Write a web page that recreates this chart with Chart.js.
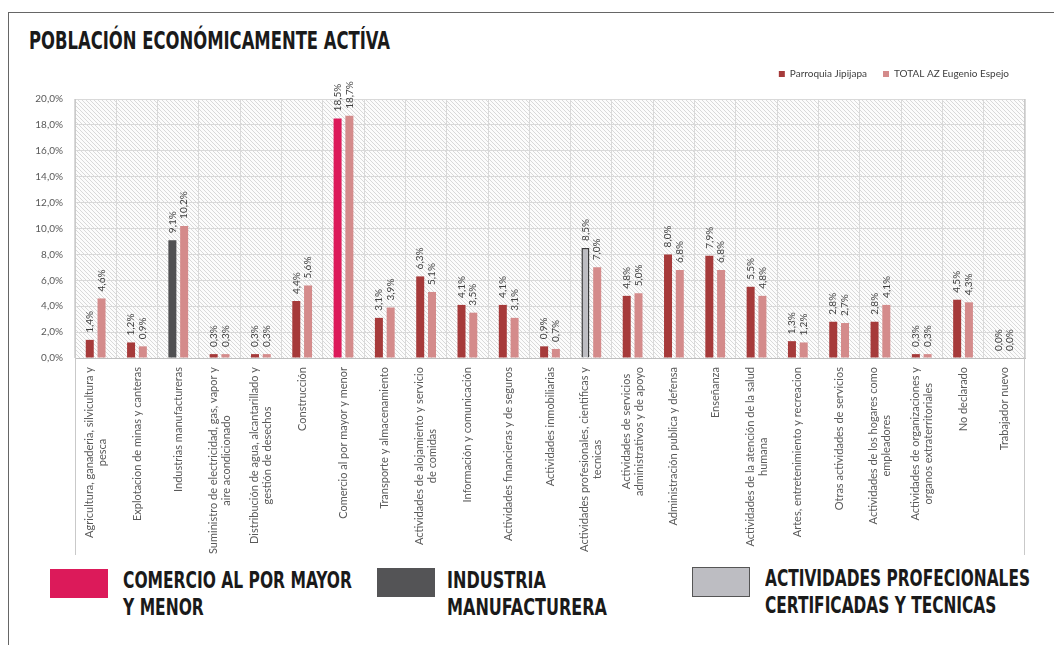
<!DOCTYPE html>
<html lang="es">
<head>
<meta charset="UTF-8">
<title>Población económicamente activa</title>
<script src="https://cdn.jsdelivr.net/npm/chart.js"></script>
<style>
  body { margin: 0; width: 1054px; height: 645px; overflow: hidden; position: relative; background: #fff; font-family: Lato, sans-serif; }
  .marco { position: absolute; left: 8px; top: 12px; width: 1100px; height: 700px; border-top: 1px solid #666; border-left: 1px solid #666; }
  .titulo, .nota { position: absolute; font-family: 'Liberation Sans Narrow', 'DejaVu Sans Condensed', sans-serif; font-weight: bold; color: #1a1a1a; white-space: nowrap; transform-origin: 0 0; }
  .titulo { left: 29px; top: 27px; font-size: 24px; line-height: 28px; }
  .nota { font-size: 23px; line-height: 27px; }
  .muestra { position: absolute; width: 58px; height: 29px; }
  #lienzo { position: absolute; left: 10px; top: 40px; width: 1040px; height: 520px; }
</style>
</head>
<body>
<div class="marco"></div>
<div class="titulo" id="titulo">POBLACIÓN ECONÓMICAMENTE ACTÍVA</div>
<div id="lienzo"><canvas id="grafico"></canvas></div>

<div class="muestra" style="left:50px; top:569px; background:#dc1a5a;"></div>
<div class="nota" id="n1" style="left:123px; top:567px;">COMERCIO AL POR MAYOR<br>Y MENOR</div>
<div class="muestra" style="left:377px; top:568px; background:#545456;"></div>
<div class="nota" id="n2" style="left:447px; top:567px;">INDUSTRIA<br>MANUFACTURERA</div>
<div class="muestra" style="left:692px; top:567px; width:56px; height:28px; background:#bdbdc2; border:1px solid #555;"></div>
<div class="nota" id="n3" style="left:765px; top:565px;">ACTIVIDADES PROFECIONALES<br>CERTIFICADAS Y TECNICAS</div>

<script>
const categorias = [
  ['Agricultura, ganaderia, silvicultura y', 'pesca'],
  ['Explotacion de minas y canteras'],
  ['Industrias manufactureras'],
  ['Suministro de electricidad, gas, vapor y', 'aire acondicionado'],
  ['Distribución de agua, alcantarillado y', 'gestión de desechos'],
  ['Construcción'],
  ['Comercio al por mayor y menor'],
  ['Transporte y almacenamiento'],
  ['Actividades de alojamiento y servicio', 'de comidas'],
  ['Información y comunicación'],
  ['Actividades financieras y de seguros'],
  ['Actividades inmobiliarias'],
  ['Actividades profesionales, cientificas y', 'tecnicas'],
  ['Actividades de servicios', 'administrativos y de apoyo'],
  ['Administración publica y defensa'],
  ['Enseñanza'],
  ['Actividades de la atención de la salud', 'humana'],
  ['Artes, entretenimiento y recreacion'],
  ['Otras actividades de servicios'],
  ['Actividades de los hogares como', 'empleadores'],
  ['Actividades de organizaciones y', 'organos extraterritoriales'],
  ['No declarado'],
  ['Trabajador nuevo']
];
const parroquiaJipijapa = [1.4, 1.2, 9.1, 0.3, 0.3, 4.4, 18.5, 3.1, 6.3, 4.1, 4.1, 0.9, 8.5, 4.8, 8.0, 7.9, 5.5, 1.3, 2.8, 2.8, 0.3, 4.5, 0.0];
const totalEugenioEspejo = [4.6, 0.9, 10.2, 0.3, 0.3, 5.6, 18.7, 3.9, 5.1, 3.5, 3.1, 0.7, 7.0, 5.0, 6.8, 6.8, 4.8, 1.2, 2.7, 4.1, 0.3, 4.3, 0.0];
const escalaY = { min: 0, max: 20, paso: 2 };

// sectores resaltados en la serie de la parroquia
const resaltados = { 2: '#505052', 6: '#dc1a5a', 12: '#bdbdc2' };
const ROJO = '#a63a3a';
const ROSA = '#d48b8b';

const pct = v => v.toFixed(1).replace('.', ',') + '%';

function trama(ctx) {
  const c = document.createElement('canvas');
  c.width = c.height = 4;
  const g = c.getContext('2d');
  g.fillStyle = '#fcfcfc';
  g.fillRect(0, 0, 4, 4);
  g.strokeStyle = '#d9d9d9';
  g.lineWidth = 1;
  g.beginPath();
  g.moveTo(0, 0); g.lineTo(4, 4);
  g.moveTo(-1, 3); g.lineTo(1, 5);
  g.moveTo(3, -1); g.lineTo(5, 1);
  g.stroke();
  return ctx.createPattern(c, 'repeat');
}

const fondo = {
  id: 'fondo',
  beforeDraw(chart) {
    const { ctx, chartArea: a } = chart;
    ctx.save();
    ctx.fillStyle = trama(ctx);
    ctx.fillRect(a.left, a.top, a.right - a.left, a.bottom - a.top);
    ctx.restore();
  },
  afterDraw(chart) {
    const { ctx, chartArea: a } = chart;
    const x = chart.scales.x;
    ctx.save();
    ctx.strokeStyle = '#c9c9c9';
    ctx.lineWidth = 1;
    ctx.beginPath();
    ctx.moveTo(Math.round(a.left) + 0.5, a.top);
    ctx.lineTo(Math.round(a.left) + 0.5, x.bottom);
    ctx.moveTo(Math.round(a.right) - 0.5, a.top);
    ctx.lineTo(Math.round(a.right) - 0.5, x.bottom);
    ctx.stroke();

    // etiquetas de categoría, giradas y centradas por bloque
    ctx.fillStyle = '#595959';
    ctx.font = '11px Lato';
    ctx.textAlign = 'center';
    ctx.textBaseline = 'middle';
    categorias.forEach((lineas, i) => {
      const cx = x.getPixelForValue(i);
      const ancho = Math.max(...lineas.map(l => ctx.measureText(l).width));
      lineas.forEach((l, j) => {
        ctx.save();
        ctx.translate(cx + (j - (lineas.length - 1) / 2) * 13, x.top + 9 + ancho / 2);
        ctx.rotate(-Math.PI / 2);
        ctx.fillText(l, 0, 0);
        ctx.restore();
      });
    });
    ctx.restore();
  }
};

const valores = {
  id: 'valores',
  afterDatasetsDraw(chart) {
    const { ctx } = chart;
    ctx.save();
    ctx.fillStyle = '#404040';
    ctx.font = '10px Lato';
    ctx.textAlign = 'left';
    ctx.textBaseline = 'middle';
    chart.data.datasets.forEach((ds, d) => {
      chart.getDatasetMeta(d).data.forEach((barra, i) => {
        ctx.save();
        ctx.translate(barra.x, barra.y - 7);
        ctx.rotate(-Math.PI / 2);
        ctx.fillText(pct(ds.data[i]), 0, 0);
        ctx.restore();
      });
    });
    ctx.restore();
  }
};

const aireLeyenda = {
  id: 'aireLeyenda',
  beforeInit(chart) {
    const fit = chart.legend.fit;
    chart.legend.fit = function () {
      fit.call(this);
      this.height += 10;
    };
  }
};

new Chart(document.getElementById('grafico'), {
  type: 'bar',
  data: {
    labels: categorias.map(c => c.join(' ')),
    datasets: [
      {
        label: 'Parroquia Jipijapa',
        data: parroquiaJipijapa,
        backgroundColor: c => (c.dataIndex in resaltados ? resaltados[c.dataIndex] : ROJO),
        borderColor: '#3a3a3a',
        borderWidth: c => (c.dataIndex === 12 ? 1.5 : 0)
      },
      {
        label: 'TOTAL AZ Eugenio Espejo',
        data: totalEugenioEspejo,
        backgroundColor: ROSA,
        borderWidth: 0
      }
    ]
  },
  options: {
    responsive: true,
    maintainAspectRatio: false,
    animation: false,
    categoryPercentage: 0.57,
    barPercentage: 0.68,
    layout: { padding: { top: 13, right: 25, bottom: 5, left: 0 } },
    plugins: {
      legend: {
        align: 'end',
        labels: {
          boxWidth: 6,
          boxHeight: 6,
          padding: 16,
          color: '#404040',
          font: { family: 'Lato', size: 10 }
        }
      },
      tooltip: { enabled: false }
    },
    scales: {
      x: {
        ticks: { display: false },
        grid: { color: '#d9d9d9', drawTicks: false, offset: true },
        border: { color: '#bfbfbf' },
        afterFit: s => { s.height = 197; }
      },
      y: {
        min: escalaY.min,
        max: escalaY.max,
        ticks: {
          stepSize: escalaY.paso,
          padding: 12,
          color: '#595959',
          font: { family: 'Lato', size: 10 },
          callback: v => pct(v)
        },
        grid: { color: '#d9d9d9', drawTicks: false },
        border: { display: false },
        afterFit: s => { s.width = 65; }
      }
    }
  },
  plugins: [fondo, valores, aireLeyenda]
});

// ancho de los rótulos en fuente condensada
function ajustar(id, ancho) {
  const el = document.getElementById(id);
  const w = el.getBoundingClientRect().width;
  el.style.transform = 'scaleX(' + (ancho / w) + ')';
}
ajustar('titulo', 361);
ajustar('n1', 229);
ajustar('n2', 160);
ajustar('n3', 265);
</script>
</body>
</html>
